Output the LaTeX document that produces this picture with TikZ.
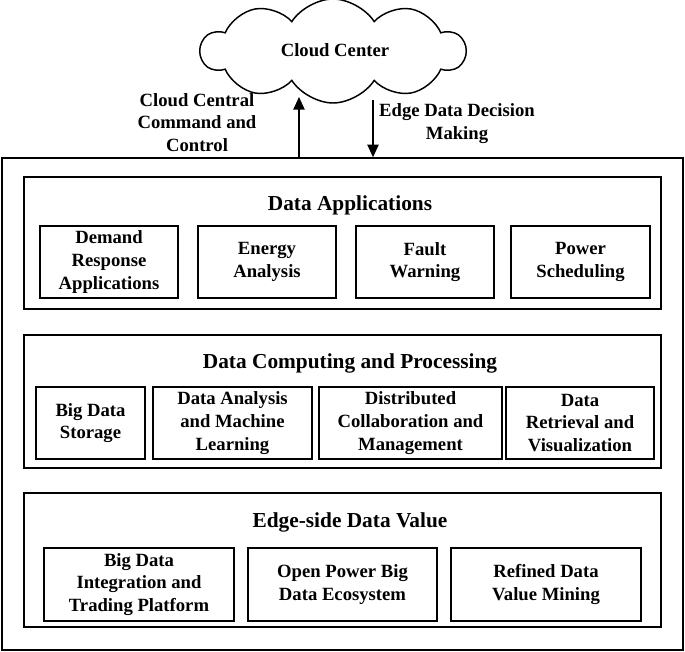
\documentclass[tikz,border=0pt]{standalone}
\usepackage{fontspec}
\setmainfont{Liberation Serif}
\usetikzlibrary{shapes.symbols,arrows.meta}
\newcommand\pbox[7]{\node[#1, minimum width={(#4-#3)*0.75pt}, minimum height={(#6-#5)*0.75pt}] (#2) at ({(#3+#4)/2},{(#5+#6)/2}) {#7};}
\begin{document}
\begin{tikzpicture}[x=0.75pt,y=-0.75pt,
  font=\bfseries\fontsize{14}{17}\selectfont,
  outerbox/.style={draw, line width=1.1pt, inner sep=0pt},
  panel/.style={draw, line width=1.1pt, inner sep=0pt},
  item/.style={draw, line width=1.1pt, align=center, inner sep=0pt},
  paneltitle/.style={font=\bfseries\fontsize{16}{19}\selectfont},
  lbl/.style={align=center},
  arr/.style={line width=1pt, -{Triangle[length=9.5pt,width=8.5pt]}},
  cloudnode/.style={cloud, draw, line width=1.1pt, cloud puffs=10, cloud puff arc=115, aspect=2.7, inner sep=0pt}
]
\useasboundingbox (0,0) rectangle (685,652);

% cloud
\node[cloudnode, minimum width=198pt, minimum height=78pt] (cloudc) at (333,51) {};
\node (cloudt) at (335,50) {Cloud Center};

% outer box
\pbox{outerbox}{outer}{2}{683}{158}{650}{}

% arrows
\coordinate (cu) at (299,97);
\coordinate (cd) at (373,100);
\draw[arr] (outer.north -| cu) -- (cu);
\draw[arr] (cd) -- (outer.north -| cd);
\node[lbl] (lblup) at (197,122.5) {Cloud Central\\Command and\\Control};
\node[lbl] (lbldown) at (457,123.5) {Edge Data Decision\\Making};

% row 1
\pbox{panel}{p1}{24}{661}{177}{309}{}
\node[paneltitle] (t1) at (350,205) {Data Applications};
\pbox{item}{a1}{40}{178}{226}{298}{Demand\\Response\\Applications}
\pbox{item}{a2}{198}{336}{226}{298}{Energy\\Analysis}
\pbox{item}{a3}{356}{494}{226}{298}{Fault\\Warning}
\pbox{item}{a4}{511}{650}{226}{298}{Power\\Scheduling}

% row 2
\pbox{panel}{p2}{24}{661}{335}{468}{}
\node[paneltitle] (t2) at (350,363) {Data Computing and Processing};
\pbox{item}{b1}{36}{145}{387}{459}{Big Data\\Storage}
\pbox{item}{b2}{153}{312}{387}{459}{Data Analysis\\and Machine\\Learning}
\pbox{item}{b3}{319}{502}{387}{459}{Distributed\\Collaboration and\\Management}
\pbox{item}{b4}{506}{654}{387}{459}{Data\\Retrieval and\\Visualization}

% row 3
\pbox{panel}{p3}{24}{661}{493}{627}{}
\node[paneltitle] (t3) at (350,522) {Edge-side Data Value};
\pbox{item}{c1}{44}{234}{548}{621}{Big Data\\Integration and\\Trading Platform}
\pbox{item}{c2}{248}{437}{548}{621}{Open Power Big\\Data Ecosystem}
\pbox{item}{c3}{451}{641}{548}{621}{Refined Data\\Value Mining}
\end{tikzpicture}
\end{document}
